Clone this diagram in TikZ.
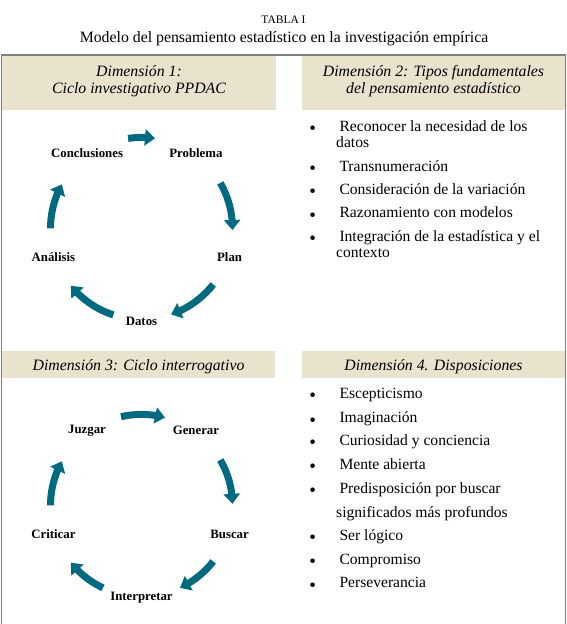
\documentclass[tikz,border=0pt]{standalone}
\usepackage{fontspec}
\setmainfont{Liberation Serif}
\usepackage{tikz}
\usetikzlibrary{arrows.meta, bending, calc}
\definecolor{cabecera}{HTML}{E9E3CD}
\definecolor{ciclo}{HTML}{006A80}
\definecolor{marco}{HTML}{7F7F7F}

\begin{document}
\begin{tikzpicture}[x=1pt, y=-1pt,
  cabtxt/.style={inner sep=0pt, align=center,
    font=\fontsize{15.8}{16.5}\selectfont\itshape},
  etq/.style={inner sep=0pt, font=\fontsize{12.8}{14}\selectfont\bfseries},
  flecha/.style={draw=ciclo, line width=7pt,
    -{Triangle[width=16pt, length=10pt]}},
  item/.style={inner sep=0pt, anchor=west, text height=1.2ex, text depth=.25ex,
    yshift=-2.5pt, font=\fontsize{15.6}{18}\selectfont},
  punto/.style={inner sep=0pt, yshift=-3.5pt, font=\fontsize{19}{20}\selectfont}
]
  \useasboundingbox (0,0) rectangle (567,624);

  % Title
  \node[font=\fontsize{11.5}{13}\selectfont] (tabla) at (283.5,20) {TABLA I};
  \node[font=\fontsize{15.8}{18}\selectfont] (titulo) at (284,38.5)
    {Modelo del pensamiento estadístico en la investigación empírica};

  % Header cells
  \fill[cabecera] (2,56) rectangle (276,110);
  \fill[cabecera] (302,56) rectangle (565.5,110);
  \fill[cabecera] (2,351) rectangle (275,378);
  \fill[cabecera] (302,351) rectangle (565.5,378);
  \node[cabtxt] (dim1) at (139,81) {Dimensión 1:\\Ciclo investigativo PPDAC};
  \node[cabtxt] (dim2) at (433.5,81) {Dimensión 2: Tipos fundamentales\\del pensamiento estadístico};
  \node[cabtxt] (dim3) at (138.5,366.5) {Dimensión 3: Ciclo interrogativo};
  \node[cabtxt] (dim4) at (433.5,366.5) {Dimensión 4. Disposiciones};

  % Frame (open at the bottom)
  \draw[marco, line width=1.4pt] (1.7,626) -- (1.7,55) -- (565.7,55) -- (565.7,626);

  % Dimension 1: PPDAC cycle
  \coordinate (ppdac) at (141.5,228.4);
  \foreach \nom/\txt/\ang in {problema/Problema/54, plan/Plan/-18, datos/Datos/-90,
    analisis/Análisis/198, conclusiones/Conclusiones/126}{
    \node[etq] (\nom) at ($(ppdac)+(\ang:92.6pt)$) {\txt};
  }
  \foreach \a/\b in {98.5/81.5, 30/-1, -38/-71, -108/-141, 180/151}{
    \draw[flecha] ($(ppdac)+(\a:91pt)$) arc[start angle=\a, end angle=\b, radius=91pt];
  }

  % Dimension 3: interrogative cycle
  \coordinate (interr) at (141.5,505.4);
  \foreach \nom/\txt/\ang in {generar/Generar/54, buscar/Buscar/-18, interpretar/Interpretar/-90,
    criticar/Criticar/198, juzgar/Juzgar/126}{
    \node[etq] (\nom) at ($(interr)+(\ang:92.6pt)$) {\txt};
  }
  \foreach \a/\b in {103/75, 30/1, -38/-65, -115/-141, 180/151}{
    \draw[flecha] ($(interr)+(\a:91pt)$) arc[start angle=\a, end angle=\b, radius=91pt];
  }

  % Dimension 2: list
  \foreach \txt/\y [count=\i] in {Reconocer la necesidad de los/126.7, Transnumeración/166.7,
    Consideración de la variación/190, Razonamiento con modelos/213.3,
    Integración de la estadística y el/236.7}{
    \node[punto] (pa\i) at (312.7,\y) {\textbullet};
    \node[item] (ea\i) at (339.3,\y) {\txt};
  }
  \node[item] (ea1b) at (336,143.3) {datos};
  \node[item] (ea5b) at (336,253.3) {contexto};

  % Dimension 4: list
  \foreach \txt/\y [count=\i] in {Escepticismo/394, Imaginación/418.3,
    Curiosidad y conciencia/440.7, Mente abierta/465, Predisposición por buscar/489,
    Ser lógico/535.7, Compromiso/560, Perseverancia/583.3}{
    \node[punto] (pd\i) at (312.7,\y) {\textbullet};
    \node[item] (ed\i) at (339.3,\y) {\txt};
  }
  \node[item] (ed5b) at (336,512.7) {significados más profundos};
\end{tikzpicture}
\end{document}
